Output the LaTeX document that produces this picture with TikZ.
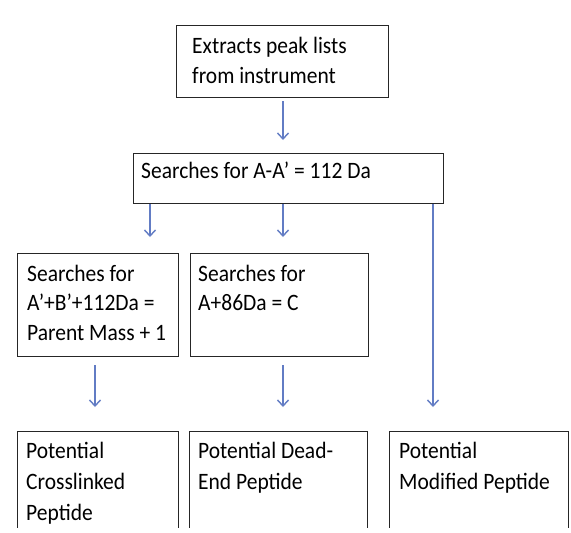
\documentclass[tikz,border=0pt]{standalone}
\usepackage{fontspec}
\setmainfont[FakeStretch=0.915]{Carlito}
\usetikzlibrary{arrows.meta}
\definecolor{flowblue}{RGB}{98,124,196}
\tikzset{
  box/.style={draw=black!85, line width=1.4pt, inner sep=0pt, anchor=north west},
  % multi-line labels are placed by the baseline of their last line
  label/.style={anchor=base west, inner sep=0pt, align=left,
    font={\fontsize{23.5}{29.5}\selectfont}},
  looselabel/.style={label, font={\fontsize{23.5}{31}\selectfont}},
  flow/.style={draw=flowblue, line width=1.4pt,
    -{Straight Barb[length=6pt,width=11pt,line width=1.4pt]}},
}
\begin{document}
\begin{tikzpicture}[x=1pt,y=-1pt]
\useasboundingbox (0,0) rectangle (571,533);
\fill[white] (0,0) rectangle (571,533);
\begin{scope}
\clip (0,0) rectangle (571,527);
% boxes
\node[box, minimum width=212pt, minimum height=72pt] (b1) at (176,25) {};
\node[box, minimum width=310pt, minimum height=50pt] (b2) at (133,153) {};
\node[box, minimum width=161pt, minimum height=103pt] (b3a) at (17,253) {};
\node[box, minimum width=178pt, minimum height=103pt] (b3b) at (190,253) {};
\node[box, minimum width=161pt, minimum height=130pt] (b4a) at (17,431) {};
\node[box, minimum width=178pt, minimum height=130pt] (b4b) at (189,431) {};
\node[box, minimum width=179pt, minimum height=130pt] (b4c) at (389,431) {};
% texts
\node[label] (t1) at (192,83) {Extracts peak lists\\from instrument};
\node[label] (t2) at (141,178.5) {Searches for A-A’ = 112 Da};
\node[label] (t3a) at (27,340) {Searches for\\A’+B’+112Da =\\Parent Mass + 1};
\node[label] (t3b) at (198,310.5) {Searches for\\A+86Da = C};
\node[looselabel] (t4a) at (26,520.5) {Potential\\Crosslinked\\Peptide};
\node[looselabel] (t4b) at (198,489.5) {Potential Dead-\\End Peptide};
\node[looselabel] (t4c) at (399,489.5) {Potential\\Modified Peptide};
\end{scope}
% arrow start points
\coordinate (s1) at (283,101);
\coordinate (s2a) at (150,204);
\coordinate (s2b) at (283,204);
\coordinate (s2c) at (433,204);
\coordinate (s3a) at (95,365);
\coordinate (s3b) at (283,365);
% connectors
\draw[flow, shorten >=13pt] (s1) -- (s1 |- b2.north);
\draw[flow, shorten >=16pt] (s2a) -- (s2a |- b3a.north);
\draw[flow, shorten >=16pt] (s2b) -- (s2b |- b3b.north);
\draw[flow, shorten >=24pt] (s2c) -- (s2c |- b4c.north);
\draw[flow, shorten >=24pt] (s3a) -- (s3a |- b4a.north);
\draw[flow, shorten >=24pt] (s3b) -- (s3b |- b4b.north);
\end{tikzpicture}
\end{document}
